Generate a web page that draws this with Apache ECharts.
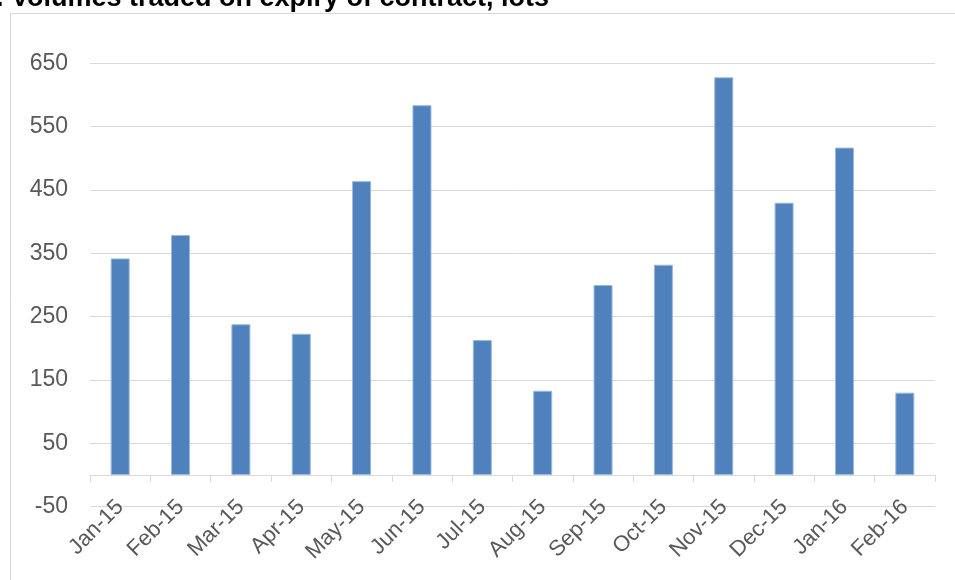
<!DOCTYPE html>
<html>
<head>
<meta charset="utf-8">
<script src="https://cdn.jsdelivr.net/npm/echarts@6/dist/echarts.min.js"></script>
<style>
html,body{margin:0;padding:0;background:#fff;}
#c{width:955px;height:580px;}
</style>
</head>
<body>
<div id="c"></div>
<script>
var titleText = ". Volumes traded on expiry of contract, lots";
var categories = ["Jan-15","Feb-15","Mar-15","Apr-15","May-15","Jun-15","Jul-15","Aug-15","Sep-15","Oct-15","Nov-15","Dec-15","Jan-16","Feb-16"];
var volumes = [342, 379, 238, 223, 464, 584, 213, 133, 300, 332, 628, 430, 517, 130];
var yMin = -50, yMax = 650, yStep = 100;

var chart = echarts.init(document.getElementById('c'), null, {renderer: 'canvas'});
var font = '"Liberation Sans", Arial, sans-serif';
chart.setOption({
  animation: false,
  backgroundColor: '#ffffff',
  graphic: [
    {type: 'rect', shape: {x: 10.5, y: 13.5, width: 1000, height: 700}, style: {fill: 'none', stroke: '#d9d9d9', lineWidth: 1}, silent: true, z: -1},
    {type: 'text', left: -4, top: -15, style: {text: titleText, font: 'bold 27px ' + font, fill: '#000000'}}
  ],
  grid: {left: 90, right: 20, top: 63.4, bottom: 73.4, containLabel: false},
  xAxis: [
    {
      type: 'category', data: categories, position: 'bottom',
      axisLine: {show: true, onZero: true, lineStyle: {color: '#d9d9d9', width: 1}},
      axisTick: {show: true, length: 7, lineStyle: {color: '#d9d9d9'}},
      axisLabel: {show: false},
      splitLine: {show: false}
    },
    {
      type: 'category', data: categories, position: 'bottom',
      axisLine: {show: false, onZero: false},
      axisTick: {show: false},
      axisLabel: {show: true, rotate: 45, margin: -3, color: '#595959', fontSize: 22, fontFamily: font, interval: 0},
      splitLine: {show: false}
    }
  ],
  yAxis: {
    type: 'value', min: yMin, max: yMax, interval: yStep,
    axisLine: {show: false}, axisTick: {show: false},
    axisLabel: {margin: 22, color: '#595959', fontSize: 23, fontFamily: font},
    splitLine: {show: true, lineStyle: {color: '#d9d9d9', width: 1}}
  },
  series: [{
    type: 'bar', data: volumes, xAxisIndex: 0, barWidth: 19,
    itemStyle: {color: '#4f81bd', borderColor: '#9ab8dd', borderWidth: 1}
  }]
});
</script>
</body>
</html>
